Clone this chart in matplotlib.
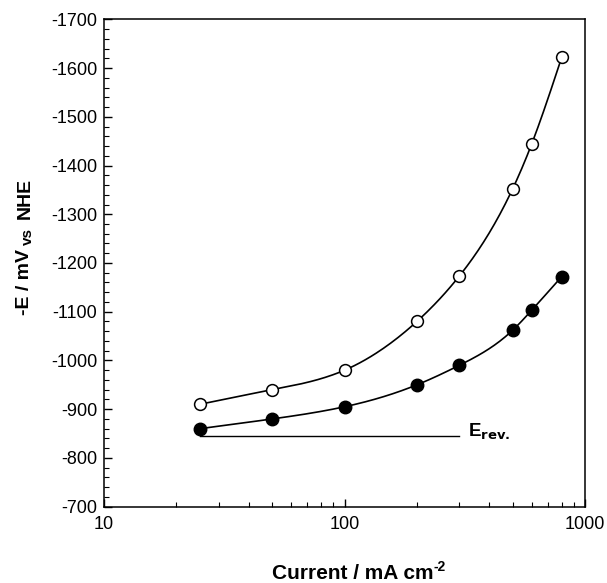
import numpy as np
import matplotlib.pyplot as plt
from matplotlib.ticker import FixedLocator, MultipleLocator, LogLocator, NullFormatter

plt.rcParams['font.family'] = ['Liberation Sans', 'DejaVu Sans']
plt.rcParams['axes.unicode_minus'] = False

# data
current = [25, 50, 100, 200, 300, 500, 600, 800]          # mA cm-2
e_open = [-910, -940, -980, -1080, -1173, -1352, -1444, -1622]   # mV vs NHE
e_filled = [-860, -880, -905, -950, -990, -1062, -1103, -1172]
e_rev = -845
e_rev_range = [25, 300]

x_ticks = [10, 100, 1000]
x_ticklabels = ['10', '100', '1000']
y_ticks = list(range(-700, -1701, -100))

W, H = 607, 583


def smooth(x, y, n=200):
    # natural cubic spline in log10(x)
    t = np.log10(x)
    y = np.asarray(y, float)
    k = len(t)
    h = np.diff(t)
    A = np.zeros((k, k))
    b = np.zeros(k)
    A[0, 0] = A[-1, -1] = 1
    for i in range(1, k - 1):
        A[i, i - 1] = h[i - 1]
        A[i, i] = 2 * (h[i - 1] + h[i])
        A[i, i + 1] = h[i]
        b[i] = 6 * ((y[i + 1] - y[i]) / h[i] - (y[i] - y[i - 1]) / h[i - 1])
    M = np.linalg.solve(A, b)
    tt = np.linspace(t[0], t[-1], n)
    idx = np.clip(np.searchsorted(t, tt) - 1, 0, k - 2)
    t0, t1 = t[idx], t[idx + 1]
    hh = t1 - t0
    a = (t1 - tt) / hh
    c = (tt - t0) / hh
    yy = (a * y[idx] + c * y[idx + 1]
          + ((a ** 3 - a) * M[idx] + (c ** 3 - c) * M[idx + 1]) * hh ** 2 / 6)
    return 10 ** tt, yy


fig = plt.figure(figsize=(W / 100, H / 100), dpi=100)
ax = fig.add_axes([0.1713, 0.1309, 0.7925, 0.836])

xs, ys = smooth(current, e_open)
ax.plot(xs, ys, color='black', linewidth=1.2)
xs, ys = smooth(current, e_filled)
ax.plot(xs, ys, color='black', linewidth=1.2)

ax.plot(current, e_open, 'o', markersize=8.5, markerfacecolor='white',
        markeredgecolor='black', markeredgewidth=1.1, zorder=3)
ax.plot(current, e_filled, 'o', markersize=9, markerfacecolor='black',
        markeredgecolor='black', zorder=3)

ax.plot(e_rev_range, [e_rev, e_rev], color='black', linewidth=1.0)
ax.text(326, e_rev + 2, r'E$_{\mathbf{rev.}}$', fontsize=13.5, fontweight='bold',
        ha='left', va='baseline')

ax.set_xscale('log')
ax.set_xlim(10, 1000)
ax.set_ylim(-700, -1700)

ax.xaxis.set_major_locator(FixedLocator(x_ticks))
ax.set_xticklabels(x_ticklabels)
ax.xaxis.set_minor_locator(LogLocator(base=10, subs=np.arange(2, 10)))
ax.xaxis.set_minor_formatter(NullFormatter())
ax.set_yticks(y_ticks)
ax.yaxis.set_minor_locator(MultipleLocator(20))

ax.tick_params(axis='both', which='both', direction='in', top=False, right=False,
               labelsize=13)
ax.tick_params(axis='both', which='major', length=6, width=1)
ax.tick_params(axis='both', which='minor', length=3.5, width=0.8)
ax.tick_params(axis='x', which='major', pad=7)
ax.tick_params(axis='y', which='major', pad=5)

for s in ax.spines.values():
    s.set_linewidth(1.1)

# x label, superscript drawn as its own text
fig.text(272 / W, 1 - 579 / H, 'Current / mA cm', fontsize=15, fontweight='bold',
         ha='left', va='baseline')
fig.text(434 / W, 1 - 571 / H, '-2', fontsize=10, fontweight='bold',
         ha='left', va='baseline')

# y label with the smaller "vs"
fig.text(25 / W, 1 - 315 / H, '-E / mV', fontsize=14, fontweight='bold',
         rotation=90, ha='center', va='bottom')
fig.text(27.5 / W, 1 - 245 / H, 'vs', fontsize=11, fontweight='bold',
         rotation=90, ha='center', va='bottom')
fig.text(25 / W, 1 - 219 / H, 'NHE', fontsize=14, fontweight='bold',
         rotation=90, ha='center', va='bottom')

fig.savefig('out.png', dpi=100)
